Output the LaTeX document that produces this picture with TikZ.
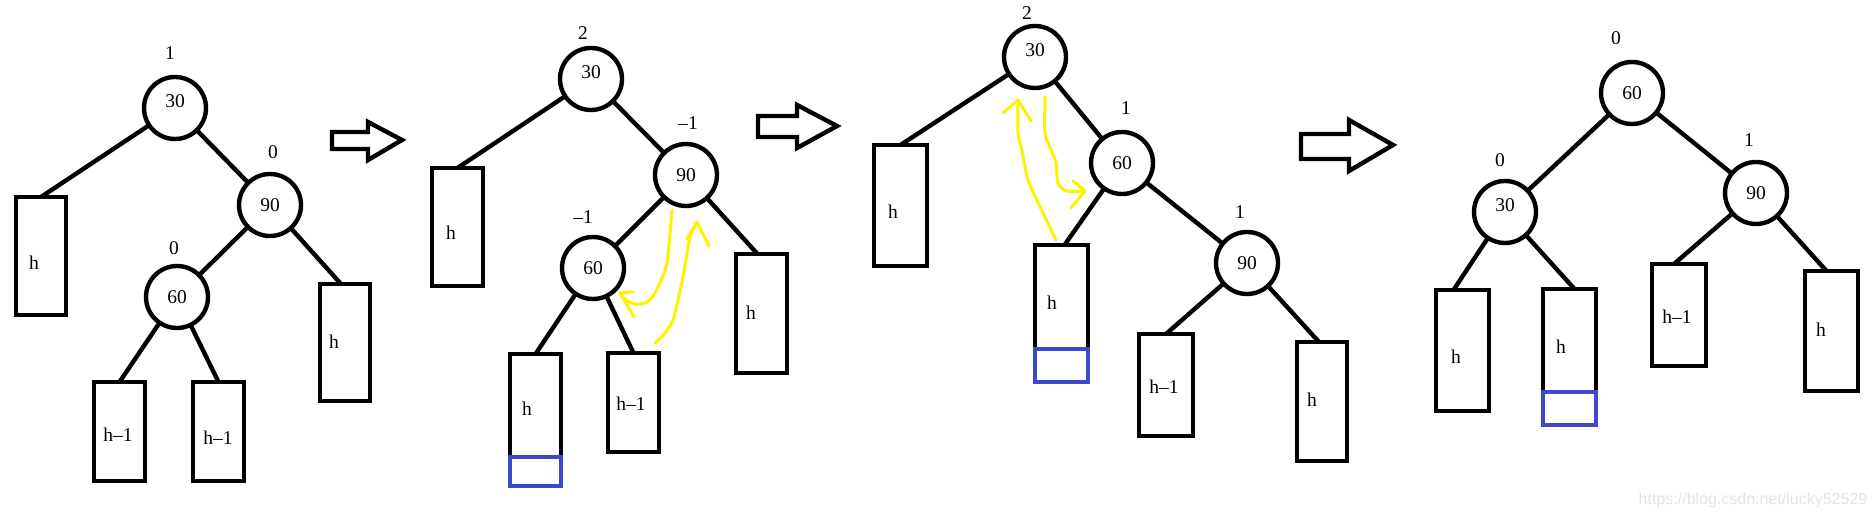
\documentclass[tikz,border=0pt]{standalone}
\usepackage{fontspec}
\setmainfont{Liberation Serif}
\newfontfamily\wmfont{Liberation Sans}
\usetikzlibrary{fit}
\definecolor{pyellow}{HTML}{FFF200}
\definecolor{pblue}{HTML}{3F48CC}
\definecolor{wmgray}{HTML}{E4E4E4}
\begin{document}
\begin{tikzpicture}[x=1pt,y=-1pt,
  every node/.style={inner sep=0pt,outer sep=0pt},
  key/.style={circle,draw,line width=4.4pt,minimum size=62pt,font=\fontsize{19.5}{19.5}\selectfont},
  sub/.style={rectangle,draw,line width=4.4pt},
  extra/.style={rectangle,draw=pblue,line width=4.4pt},
  txt/.style={font=\fontsize{19.5}{19.5}\selectfont},
  edge/.style={line width=4.4pt},
  hollow/.style={line width=4.4pt,line join=miter},
  rot/.style={draw=pyellow,line width=3pt,line cap=round,line join=round},
]
\useasboundingbox[fill=white] (0,0) rectangle (1876,518);

% ---------- panel 1 ----------
\node[key] (a30) at (175,108) {\smash{30}};
\node[key] (a90) at (270,205) {90};
\node[key] (a60) at (177,297) {60};
\node[txt] (a30b) at (170,53) {1};
\node[txt] (a90b) at (273,152) {0};
\node[txt] (a60b) at (174,248) {0};
\node[sub,fit={(16,197) (66,315)}] (aL) {};
\node[sub,fit={(94,382) (145,481)}] (aM1) {};
\node[sub,fit={(193,382) (244,481)}] (aM2) {};
\node[sub,fit={(320,284) (370,401)}] (aR) {};
\node[txt] (aLt) at (34,263) {h};
\node[txt] (aM1t) at (118,435) {h–1};
\node[txt] (aM2t) at (218,438) {h–1};
\node[txt] (aRt) at (334,342) {h};
\draw[edge] (a30) -- (aL.north);
\draw[edge] (a30) -- (a90);
\draw[edge] (a90) -- (a60);
\draw[edge] (a90) -- ([xshift=-4pt]aR.north);
\draw[edge] (a60) -- (aM1.north);
\draw[edge] (a60) -- (aM2.north);
\draw[hollow] (332,132) -- (368,132) -- (368,122) -- (402,140) -- (368,160) -- (368,149) -- (332,149) -- cycle;

% ---------- panel 2 ----------
\node[key] (b30) at (591,79) {\smash{30}};
\node[key] (b90) at (686,175) {90};
\node[key] (b60) at (593,268) {60};
\node[txt] (b30b) at (583,33) {2};
\node[txt] (b90b) at (688,123) {–1};
\node[txt] (b60b) at (583,217) {–1};
\node[sub,fit={(432,168) (483,286)}] (bL) {};
\node[sub,fit={(510,354) (561,457)}] (bH) {};
\node[extra,fit={(510,457) (561,486)}] (bX) {};
\node[sub,fit={(608,353) (659,452)}] (bM) {};
\node[sub,fit={(736,254) (787,373)}] (bR) {};
\node[txt] (bLt) at (451,233) {h};
\node[txt] (bHt) at (527,409) {h};
\node[txt] (bMt) at (631,404) {h–1};
\node[txt] (bRt) at (751,313) {h};
\draw[edge] (b30) -- (bL.north);
\draw[edge] (b30) -- (b90);
\draw[edge] (b90) -- (b60);
\draw[edge] (b90) -- ([xshift=-4pt]bR.north);
\draw[edge] (b60) -- (bH.north);
\draw[edge] (b60) -- (bM.north);
\draw[rot] plot[smooth] coordinates {(672,210) (670,233) (667,263) (660,283) (653,296) (645,303) (634,304) (626,300) (620,294)};
\draw[rot] (633,292) -- (620,293) -- (634,317);
\draw[rot] plot[smooth] coordinates {(655,343) (665,333) (673,320) (678,300) (683,277) (687,253) (690,237) (697,222)};
\draw[rot] (687,239) -- (697,222) -- (709,246);
\draw[hollow] (758,116) -- (797,116) -- (797,105) -- (837,126) -- (797,148) -- (797,137) -- (758,137) -- cycle;

% ---------- panel 3 ----------
\node[key] (c30) at (1035,57) {\smash{30}};
\node[key] (c60) at (1122,163) {60};
\node[key] (c90) at (1247,263) {90};
\node[txt] (c30b) at (1027,13) {2};
\node[txt] (c60b) at (1126,108) {1};
\node[txt] (c90b) at (1240,212) {1};
\node[sub,fit={(874,145) (927,266)}] (cL) {};
\node[sub,fit={(1035,245) (1088,349)}] (cH) {};
\node[extra,fit={(1035,349) (1088,382)}] (cX) {};
\node[sub,fit={(1139,334) (1193,436)}] (cM) {};
\node[sub,fit={(1297,342) (1347,461)}] (cR) {};
\node[txt] (cLt) at (893,212) {h};
\node[txt] (cHt) at (1052,303) {h};
\node[txt] (cMt) at (1164,387) {h–1};
\node[txt] (cRt) at (1312,400) {h};
\draw[edge] (c30) -- (cL.north);
\draw[edge] (c30) -- (c60);
\draw[edge] (c60) -- ([xshift=3pt]cH.north);
\draw[edge] (c60) -- (c90);
\draw[edge] (c90) -- (cM.north);
\draw[edge] (c90) -- ([xshift=-3pt]cR.north);
\draw[rot] plot[smooth] coordinates {(1056,240) (1043,213) (1028,180) (1022,150) (1018,133) (1018,100)};
\draw[rot] (1003,113) -- (1018,100) -- (1031,121);
\draw[rot] plot[smooth] coordinates {(1045,97) (1045,133) (1050,147) (1056,163) (1058,183) (1067,191) (1085,191)};
\draw[rot] (1073,181) -- (1085,191) -- (1071,208);
\draw[hollow] (1301,134) -- (1349,134) -- (1349,120) -- (1393,145) -- (1349,171) -- (1349,159) -- (1301,159) -- cycle;

% ---------- panel 4 ----------
\node[key] (d60) at (1632,93) {60};
\node[key] (d30) at (1505,212) {\smash{30}};
\node[key] (d90) at (1756,193) {90};
\node[txt] (d60b) at (1616,38) {0};
\node[txt] (d30b) at (1500,160) {0};
\node[txt] (d90b) at (1749,140) {1};
\node[sub,fit={(1436,290) (1489,411)}] (dL) {};
\node[sub,fit={(1543,289) (1596,392)}] (dH) {};
\node[extra,fit={(1543,392) (1596,425)}] (dX) {};
\node[sub,fit={(1652,264) (1706,366)}] (dM) {};
\node[sub,fit={(1805,271) (1858,391)}] (dR) {};
\node[txt] (dLt) at (1456,357) {h};
\node[txt] (dHt) at (1561,347) {h};
\node[txt] (dMt) at (1677,317) {h–1};
\node[txt] (dRt) at (1821,330) {h};
\draw[edge] (d60) -- (d30);
\draw[edge] (d60) -- (d90);
\draw[edge] (d30) -- ([xshift=-9pt]dL.north);
\draw[edge] (d30) -- ([xshift=5pt]dH.north);
\draw[edge] (d90) -- ([xshift=-5pt]dM.north);
\draw[edge] (d90) -- ([xshift=-5pt]dR.north);

% watermark
\node[font=\wmfont\fontsize{16}{16}\selectfont,text=wmgray] (wm) at (1753,500) {https://blog.csdn.net/lucky52529};
\end{tikzpicture}
\end{document}
